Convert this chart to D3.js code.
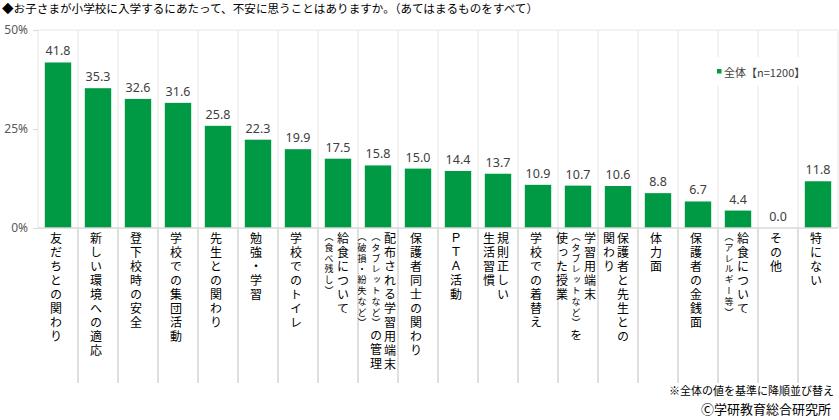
<!DOCTYPE html>
<html>
<head>
<meta charset="utf-8">
<script src="https://cdn.jsdelivr.net/npm/d3@7"></script>
<style>
  body { margin: 0; background: #fff; }
  svg text { font-family: "Noto Sans CJK JP", "Noto Sans", sans-serif; }
</style>
</head>
<body>
<svg id="chart" width="839" height="420"></svg>
<script>
// data
var title = "◆お子さまが小学校に入学するにあたって、不安に思うことはありますか。（あてはまるものをすべて）";
var seriesName = "全体【n=1200】";
// each label is a list of vertical columns, read right to left
var labelCols = [
  ["友だちとの関わり"],
  ["新しい環境への適応"],
  ["登下校時の安全"],
  ["学校での集団活動"],
  ["先生との関わり"],
  ["勉強・学習"],
  ["学校でのトイレ"],
  ["給食について", "（食べ残し）"],
  ["配布される学習用端末", "（タブレットなど）の管理", "（破損・紛失など）"],
  ["保護者同士の関わり"],
  ["ＰＴＡ活動"],
  ["規則正しい", "生活習慣"],
  ["学校での着替え"],
  ["学習用端末", "（タブレットなど）を", "使った授業"],
  ["保護者と先生との", "関わり"],
  ["体力面"],
  ["保護者の金銭面"],
  ["給食について", "（アレルギー等）"],
  ["その他"],
  ["特にない"]
];
var values = [41.8, 35.3, 32.6, 31.6, 25.8, 22.3, 19.9, 17.5, 15.8, 15.0, 14.4, 13.7, 10.9, 10.7, 10.6, 8.8, 6.7, 4.4, 0.0, 11.8];
var yTicks = [0, 25, 50];
var notes = ["※全体の値を基準に降順並び替え", "Ⓒ学研教育総合研究所"];

var categories = labelCols.map(c => c.join(""));
var green = "#009944";

var svg = d3.select("#chart");
// careful: "top" is window.top, so plot edges get their own names
var plotL = 38, plotR = 838, plotT = 30, base = 228, labelBottom = 383;

// cells (no padding) for the grid, and a padded band for the bars
var xCell = d3.scaleBand().domain(categories).range([plotL, plotR]);
var xBar = d3.scaleBand().domain(categories).range([plotL, plotR]).paddingInner(0.34).paddingOuter(0.17);
var y = d3.scaleLinear().domain([0, 50]).range([base, plotT]);
var step = xCell.step();

// title
svg.append("text").attr("x", 2).attr("y", 13)
  .attr("font-size", 11.6).attr("fill", "#000").text(title);

// vertical grid in the plot
var edges = d3.range(categories.length + 1).map(i => plotL + i * step);
svg.append("g").selectAll("line").data(edges).enter().append("line")
  .attr("x1", d => d).attr("x2", d => d)
  .attr("y1", plotT).attr("y2", base)
  .attr("stroke", "#e6e6e6").attr("stroke-width", 1);

// separators under the axis between labels
svg.append("g").selectAll("line").data(edges.slice(1, -1)).enter().append("line")
  .attr("x1", d => d).attr("x2", d => d)
  .attr("y1", base).attr("y2", labelBottom)
  .attr("stroke", "#bfbfbf").attr("stroke-width", 1);

// top gridline
svg.append("line").attr("x1", plotL).attr("x2", plotR)
  .attr("y1", y(50)).attr("y2", y(50))
  .attr("stroke", "#e6e6e6");

// legend box (sits on top of the grid)
var lg = svg.append("g");
lg.append("rect").attr("x", 713).attr("y", 57).attr("width", 93).attr("height", 29).attr("fill", "#fff");
lg.append("rect").attr("x", 717).attr("y", 69).attr("width", 4.5).attr("height", 4.5).attr("fill", green);
lg.append("text").attr("x", 724).attr("y", 72).attr("dominant-baseline", "central")
  .attr("font-size", 11).attr("fill", "#404040").text(seriesName);

// y axis
var yAxis = svg.append("g").attr("transform", "translate(" + plotL + ",0)")
  .call(d3.axisLeft(y).tickValues(yTicks).tickFormat(d => d + "%").tickSize(5).tickPadding(5));
yAxis.select(".domain").remove();
yAxis.selectAll(".tick line").attr("stroke", "#d9d9d9");
yAxis.selectAll(".tick text").attr("font-size", 12).attr("fill", "#595959")
  .style("font-family", "'Noto Sans', 'Noto Sans CJK JP', sans-serif");

// bars
svg.append("g").selectAll("rect").data(values).enter().append("rect")
  .attr("x", (d, i) => xBar(categories[i]))
  .attr("y", d => y(d))
  .attr("width", xBar.bandwidth())
  .attr("height", d => base - y(d))
  .attr("fill", green);

// baseline
svg.append("line").attr("x1", plotL).attr("x2", plotR)
  .attr("y1", base).attr("y2", base)
  .attr("stroke", "#d9d9d9").attr("stroke-width", 1.5);

// value labels
svg.append("g").selectAll("text").data(values).enter().append("text")
  .attr("x", (d, i) => xCell(categories[i]) + step / 2)
  .attr("y", d => y(d) - 7)
  .attr("text-anchor", "middle")
  .attr("font-size", 12.5).attr("fill", "#404040")
  .style("font-family", "'Noto Sans', 'Noto Sans CJK JP', sans-serif")
  .text(d => d.toFixed(1));

// vertical category labels; parts in （） are set small
var colGap = 14;
labelCols.forEach(function(cols, i) {
  var cx = xCell(categories[i]) + step / 2 - 2;
  var n = cols.length;
  cols.forEach(function(col, j) {
    var colX = cx + ((n - 1) / 2 - j) * colGap;
    var t = svg.append("text")
      .attr("x", colX).attr("y", base + 4)
      .style("writing-mode", "vertical-rl")
      .attr("fill", "#000");
    var parts = col.split(/(（[^）]*）)/).filter(p => p.length);
    parts.forEach(function(p) {
      var small = p.charAt(0) === "（";
      t.append("tspan")
        .attr("font-size", small ? 9 : 12)
        .attr("letter-spacing", small ? 1.8 : 2)
        .text(p);
    });
  });
});

// footnotes
svg.append("text").attr("x", 834).attr("y", 395).attr("text-anchor", "end")
  .attr("font-size", 11).attr("fill", "#000").text(notes[0]);
svg.append("text").attr("x", 831).attr("y", 414).attr("text-anchor", "end")
  .attr("font-size", 13).attr("fill", "#000").text(notes[1]);
</script>
</body>
</html>
